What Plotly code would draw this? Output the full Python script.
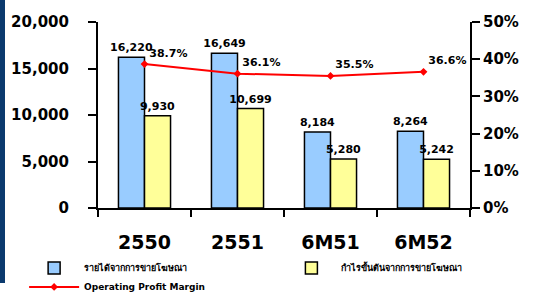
import plotly.graph_objects as go

categories = ["2550", "2551", "6M51", "6M52"]
revenue = [16220, 16649, 8184, 8264]
gross_profit = [9930, 10699, 5280, 5242]
margin = [38.7, 36.1, 35.5, 36.6]
revenue_labels = ["16,220", "16,649", "8,184", "8,264"]
profit_labels = ["9,930", "10,699", "5,280", "5,242"]
margin_labels = ["38.7%", "36.1%", "35.5%", "36.6%"]
name_rev = "รายได้จากการขายโฆษณา"
name_gp = "กำไรขั้นต้นจากการขายโฆษณา"
name_m = "Operating Profit Margin"

FONT = "DejaVu Sans"

fig = go.Figure()
fig.add_trace(go.Bar(
    x=categories, y=revenue, name=name_rev, text=revenue_labels,
    textposition="outside", cliponaxis=False, constraintext="none",
    textfont=dict(size=11, color="black", family=FONT, weight="bold"),
    marker=dict(color="#99CCFF", line=dict(color="black", width=1.5)),
    legend="legend",
))
fig.add_trace(go.Bar(
    x=categories, y=gross_profit, name=name_gp, text=profit_labels,
    textposition="outside", cliponaxis=False, constraintext="none",
    textfont=dict(size=11, color="black", family=FONT, weight="bold"),
    marker=dict(color="#FFFF99", line=dict(color="black", width=1.5)),
    legend="legend2",
))
fig.add_trace(go.Scatter(
    x=categories, y=margin, name=name_m, yaxis="y2", mode="lines+markers+text",
    text=margin_labels, textposition="top right", cliponaxis=False,
    textfont=dict(size=11, color="black", family=FONT, weight="bold"),
    line=dict(color="#FF0000", width=2),
    marker=dict(color="#FF0000", size=6, symbol="diamond"),
    legend="legend",
))

legend_common = dict(
    orientation="v", xref="container", yref="container",
    xanchor="left", yanchor="top",
    font=dict(size=9, family=FONT, weight="bold"),
    itemwidth=50, tracegroupgap=0, bgcolor="rgba(0,0,0,0)",
)

fig.update_layout(
    width=536, height=293,
    margin=dict(l=98, r=66, t=22, b=85, autoexpand=False),
    paper_bgcolor="white", plot_bgcolor="white",
    barmode="group", bargap=0.44, bargroupgap=0,
    font=dict(family=FONT, color="black"),
    xaxis=dict(
        showline=True, linecolor="black", linewidth=2, automargin=False,
        ticks="outside", ticklen=7, tickwidth=2, tickcolor="black",
        tickson="boundaries", ticklabelstandoff=16,
        tickfont=dict(size=19, family=FONT, weight="bold"),
    ),
    yaxis=dict(
        range=[0, 20000], dtick=5000, tickformat=",d", automargin=False,
        showline=True, linecolor="black", linewidth=2, showgrid=False,
        ticks="outside", ticklen=8, tickwidth=2, tickcolor="black",
        ticklabelstandoff=16,
        tickfont=dict(size=15, family=FONT, weight="bold"), zeroline=False,
    ),
    yaxis2=dict(
        range=[0, 50], dtick=10, ticksuffix="%", overlaying="y", side="right",
        automargin=False,
        showline=True, linecolor="black", linewidth=2, showgrid=False,
        ticks="outside", ticklen=8, tickwidth=2, tickcolor="black",
        tickfont=dict(size=15, family=FONT, weight="bold"), zeroline=False,
    ),
    showlegend=True,
    legend=dict(legend_common, x=0.045, y=0.135),
    legend2=dict(legend_common, x=0.525, y=0.135),
    shapes=[dict(
        type="rect", xref="paper", yref="paper",
        x0=-98/372, x1=-93/372, y0=(208-283)/186, y1=208/186,
        fillcolor="#0B3A6E", line=dict(width=0), layer="below",
    )],
)

fig.write_html(
    "out.html",
    config={"displayModeBar": False},
    post_script="document.body.style.margin='0';document.body.style.overflow='hidden';",
)
